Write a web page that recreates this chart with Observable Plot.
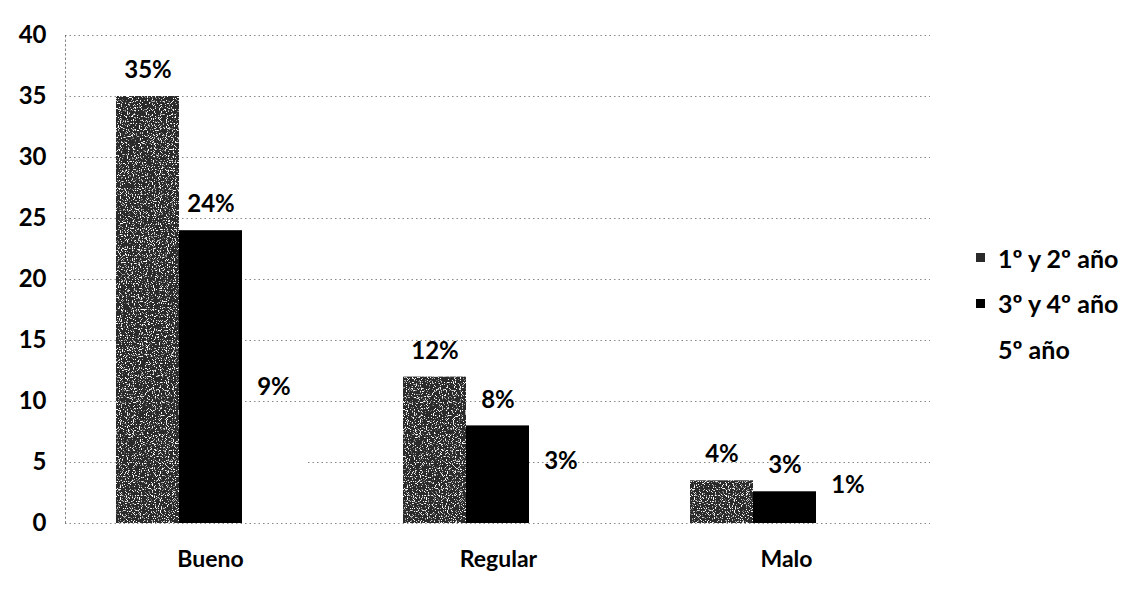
<!DOCTYPE html>
<html>
<head>
<meta charset="utf-8">
<script src="https://cdn.jsdelivr.net/npm/d3@7"></script>
<script src="https://cdn.jsdelivr.net/npm/@observablehq/plot@0.6"></script>
<style>
  html, body { margin: 0; padding: 0; background: #fff; }
  #wrap { position: relative; width: 1132px; height: 589px; font-family: Lato, "Open Sans", sans-serif; font-weight: bold; }
  #wrap svg { position: absolute; left: 0; top: 0; }
  #legend { position: absolute; left: 976px; top: 235px; font-size: 25px; color: #000; }
  #legend .item { display: flex; align-items: center; height: 45.5px; }
  #legend .sw { width: 9px; height: 9px; margin-right: 13px; }
</style>
</head>
<body>
<svg width="0" height="0" style="position:absolute">
  <defs>
    <filter id="grain" x="0" y="0" width="100%" height="100%">
      <feTurbulence type="fractalNoise" baseFrequency="0.85" numOctaves="2" seed="4" result="noise"/>
      <feColorMatrix in="noise" type="matrix" values="0 0 0 0 1  0 0 0 0 1  0 0 0 0 1  9 0 0 0 -5.2" result="speck"/>
      <feComposite in="speck" in2="SourceGraphic" operator="in" result="speckIn"/>
      <feMerge><feMergeNode in="SourceGraphic"/><feMergeNode in="speckIn"/></feMerge>
    </filter>
  </defs>
</svg>
<div id="wrap"><div id="legend"></div></div>
<script>
const categories = ["Bueno", "Regular", "Malo"];
const series = ["1º y 2º año", "3º y 4º año", "5º año"];
const values1 = [35, 12, 3.5];
const values2 = [24, 8, 2.6];
const values3 = [9, 3, 1];
const labels1 = ["35%", "12%", "4%"];
const labels2 = ["24%", "8%", "3%"];
const labels3 = ["9%", "3%", "1%"];
const yTicks = [0, 5, 10, 15, 20, 25, 30, 35, 40];
const colors = ["#2b2b2b", "#000000", "#ffffff"];

const valueSets = [values1, values2, values3];
const labelSets = [labels1, labels2, labels3];
const data = [];
categories.forEach((c, i) => {
  series.forEach((s, j) => {
    data.push({cat: c, series: s, value: valueSets[j][i], label: labelSets[j][i]});
  });
});

const common = {
  width: 1132,
  height: 589,
  marginLeft: 65,
  marginRight: 202,
  marginTop: 35,
  marginBottom: 66,
  y: {domain: [0, 40], ticks: yTicks, label: null, axis: null}
};
const fontStyle = {fontFamily: "Lato, 'Open Sans', sans-serif", fontWeight: "bold", fontSize: "22px", color: "#000"};
const gridStyle = {stroke: "#555", strokeOpacity: 0.7, strokeDasharray: "1.5,3"};

// Base layer: grid, axes, category labels
const base = Plot.plot({
  ...common,
  style: {...fontStyle, background: "#fff"},
  x: {domain: categories, paddingInner: 0.34, paddingOuter: 0.174, label: null, axis: null},
  marks: [
    Plot.gridY(yTicks, gridStyle),
    Plot.frame({anchor: "left", ...gridStyle}),
    Plot.axisY({ticks: yTicks, tickSize: 0, tickPadding: 19, fontSize: 24, fontWeight: "bold", label: null}),
    Plot.axisX({anchor: "bottom", tickSize: 0, tickPadding: 27, fontSize: 23, fontWeight: "bold", label: null})
  ]
});

// Bar layer: grouped bars via fx facets
const bars = Plot.plot({
  ...common,
  style: {...fontStyle, background: "transparent"},
  fx: {domain: categories, paddingInner: 0.34, paddingOuter: 0.174, label: null, axis: null},
  x: {domain: series, padding: 0, axis: null},
  color: {domain: series, range: colors},
  marks: [
    Plot.barY(data, {fx: "cat", x: "series", y: "value", fill: "series"}),
    Plot.text(data, {fx: "cat", x: "series", y: "value", text: "label", dy: -26, fontSize: 24, fontWeight: "bold", fill: "#000"})
  ]
});

// speckled texture on the first series' bars (style only)
d3.select(bars).selectAll("rect")
  .filter(function () { return (this.getAttribute("fill") || "").toLowerCase() === colors[0]; })
  .attr("filter", "url(#grain)");

const wrap = document.getElementById("wrap");
wrap.prepend(bars);
wrap.prepend(base);

const legend = document.getElementById("legend");
series.forEach((s, j) => {
  const item = document.createElement("div");
  item.className = "item";
  const sw = document.createElement("span");
  sw.className = "sw";
  sw.style.background = colors[j];
  const t = document.createElement("span");
  t.textContent = s;
  item.append(sw, t);
  legend.append(item);
});
</script>
</body>
</html>
